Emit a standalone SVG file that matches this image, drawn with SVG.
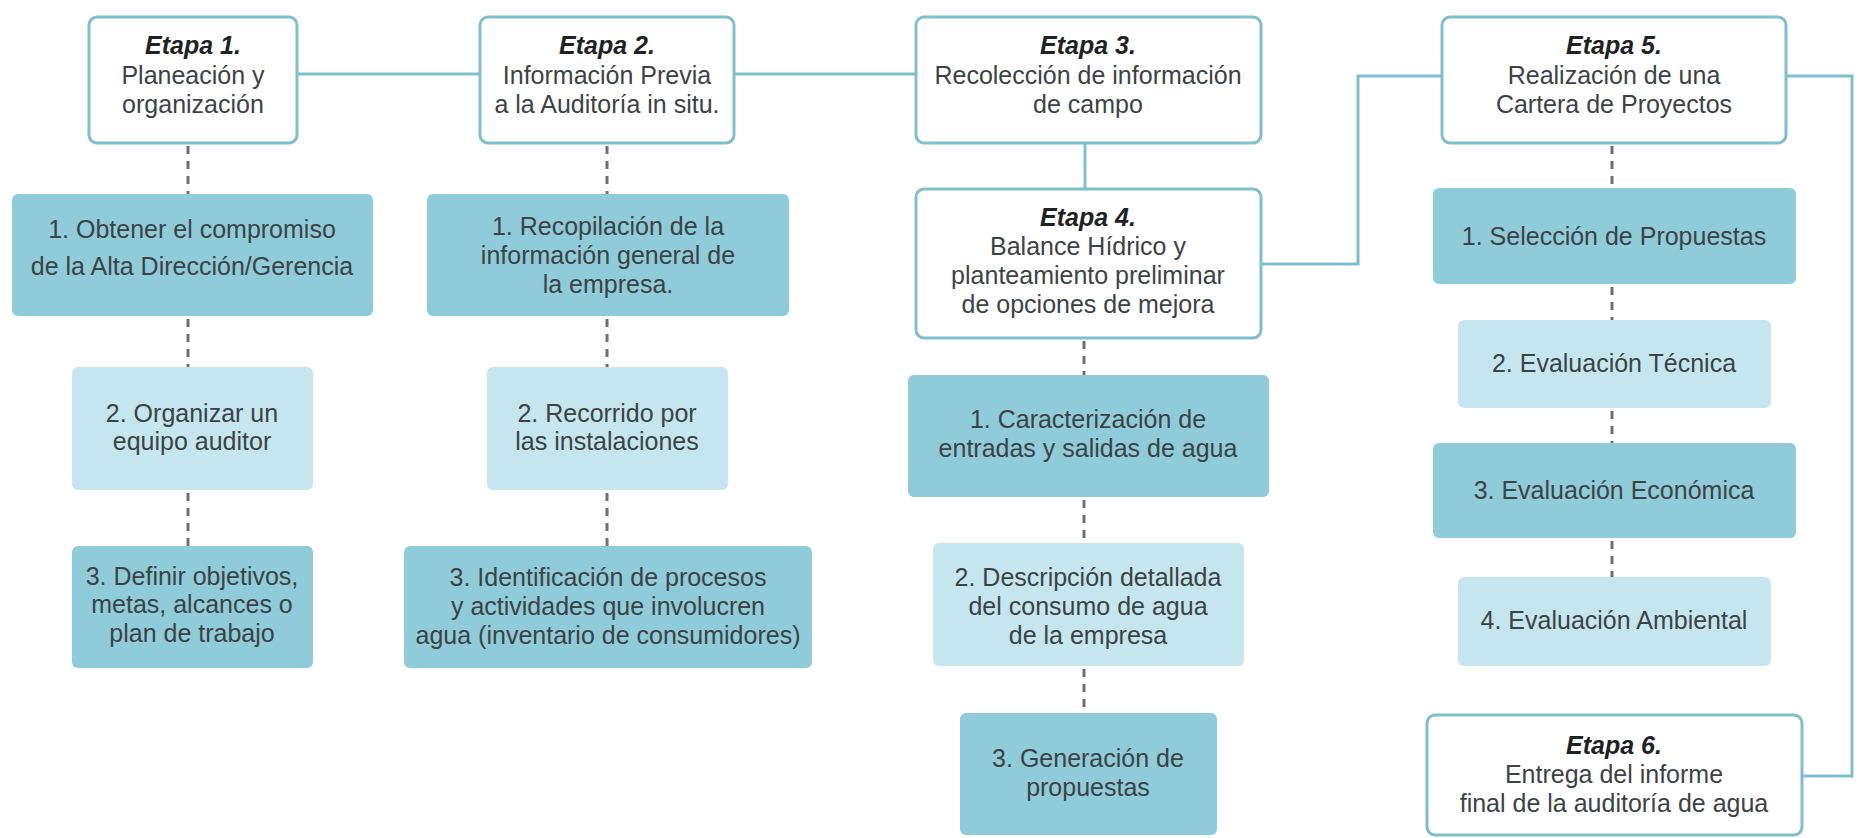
<svg xmlns="http://www.w3.org/2000/svg" width="1860" height="838" viewBox="0 0 1860 838">
<style>
.etapa{fill:#ffffff;stroke:#80bfcd;stroke-width:3}
.dark{fill:#8fcbd8}
.light{fill:#c5e6ee}
.t{font-family:"Liberation Sans",Arial,sans-serif;font-size:25px;fill:#3c4346;text-anchor:middle}
.h{font-weight:bold;font-style:italic;fill:#1e2224}
.solid{fill:none;stroke:#80bfcd;stroke-width:3}
.dash{fill:none;stroke:#707070;stroke-width:3;stroke-dasharray:8 7}
</style>
<rect width="1860" height="838" fill="#ffffff"/>
<g id="connectors">
<path class="solid" d="M297,74 H480"/>
<path class="solid" d="M734,74 H916"/>
<path class="solid" d="M1085,143 V189"/>
<path class="solid" d="M1261,264 H1358 V76 H1442"/>
<path class="solid" d="M1786,76 H1852 V776 H1802"/>
<path class="dash" d="M188,146 V194 M188,319 V367 M188,493 V546"/>
<path class="dash" d="M607,146 V194 M607,319 V367 M607,493 V546"/>
<path class="dash" d="M1084,341 V375 M1084,500 V543 M1084,669 V713"/>
<path class="dash" d="M1612,146 V188 M1612,287 V320 M1612,411 V443 M1612,541 V577"/>
</g>
<g id="etapa1">
<rect class="etapa" x="89" y="17" width="208" height="126" rx="8"/>
<text class="t h" x="193" y="54">Etapa 1.</text>
<text class="t" x="193" y="84">Planeación y</text>
<text class="t" x="193" y="113">organización</text>
</g>
<g id="etapa2">
<rect class="etapa" x="480" y="17" width="254" height="126" rx="8"/>
<text class="t h" x="607" y="54">Etapa 2.</text>
<text class="t" x="607" y="84">Información Previa</text>
<text class="t" x="607" y="113">a la Auditoría in situ.</text>
</g>
<g id="etapa3">
<rect class="etapa" x="916" y="17" width="345" height="126" rx="8"/>
<text class="t h" x="1088" y="54">Etapa 3.</text>
<text class="t" x="1088" y="84">Recolección de información</text>
<text class="t" x="1088" y="113">de campo</text>
</g>
<g id="etapa4">
<rect class="etapa" x="916" y="189" width="345" height="149" rx="8"/>
<text class="t h" x="1088" y="226">Etapa 4.</text>
<text class="t" x="1088" y="255">Balance Hídrico y</text>
<text class="t" x="1088" y="284">planteamiento preliminar</text>
<text class="t" x="1088" y="313">de opciones de mejora</text>
</g>
<g id="etapa5">
<rect class="etapa" x="1442" y="17" width="344" height="126" rx="8"/>
<text class="t h" x="1614" y="54">Etapa 5.</text>
<text class="t" x="1614" y="84">Realización de una</text>
<text class="t" x="1614" y="113">Cartera de Proyectos</text>
</g>
<g id="etapa6">
<rect class="etapa" x="1427" y="715" width="375" height="120" rx="8"/>
<text class="t h" x="1614" y="754">Etapa 6.</text>
<text class="t" x="1614" y="783">Entrega del informe</text>
<text class="t" x="1614" y="812">final de la auditoría de agua</text>
</g>
<g id="e1s1">
<rect class="dark" x="12" y="194" width="361" height="122" rx="6"/>
<text class="t" x="192" y="238">1. Obtener el compromiso</text>
<text class="t" x="192" y="275">de la Alta Dirección/Gerencia</text>
</g>
<g id="e1s2">
<rect class="light" x="72" y="367" width="241" height="123" rx="6"/>
<text class="t" x="192" y="422">2. Organizar un</text>
<text class="t" x="192" y="450">equipo auditor</text>
</g>
<g id="e1s3">
<rect class="dark" x="72" y="546" width="241" height="122" rx="6"/>
<text class="t" x="192" y="585">3. Definir objetivos,</text>
<text class="t" x="192" y="613">metas, alcances o</text>
<text class="t" x="192" y="642">plan de trabajo</text>
</g>
<g id="e2s1">
<rect class="dark" x="427" y="194" width="362" height="122" rx="6"/>
<text class="t" x="608" y="235">1. Recopilación de la</text>
<text class="t" x="608" y="264">información general de</text>
<text class="t" x="608" y="293">la empresa.</text>
</g>
<g id="e2s2">
<rect class="light" x="487" y="367" width="241" height="123" rx="6"/>
<text class="t" x="607" y="422">2. Recorrido por</text>
<text class="t" x="607" y="450">las instalaciones</text>
</g>
<g id="e2s3">
<rect class="dark" x="404" y="546" width="408" height="122" rx="6"/>
<text class="t" x="608" y="586">3. Identificación de procesos</text>
<text class="t" x="608" y="615">y actividades que involucren</text>
<text class="t" x="608" y="644">agua (inventario de consumidores)</text>
</g>
<g id="e4s1">
<rect class="dark" x="908" y="375" width="361" height="122" rx="6"/>
<text class="t" x="1088" y="428">1. Caracterización de</text>
<text class="t" x="1088" y="457">entradas y salidas de agua</text>
</g>
<g id="e4s2">
<rect class="light" x="933" y="543" width="311" height="123" rx="6"/>
<text class="t" x="1088" y="586">2. Descripción detallada</text>
<text class="t" x="1088" y="615">del consumo de agua</text>
<text class="t" x="1088" y="644">de la empresa</text>
</g>
<g id="e4s3">
<rect class="dark" x="960" y="713" width="257" height="122" rx="6"/>
<text class="t" x="1088" y="767">3. Generación de</text>
<text class="t" x="1088" y="796">propuestas</text>
</g>
<g id="e5s1">
<rect class="dark" x="1433" y="188" width="363" height="96" rx="6"/>
<text class="t" x="1614" y="245">1. Selección de Propuestas</text>
</g>
<g id="e5s2">
<rect class="light" x="1458" y="320" width="313" height="88" rx="6"/>
<text class="t" x="1614" y="372">2. Evaluación Técnica</text>
</g>
<g id="e5s3">
<rect class="dark" x="1433" y="443" width="363" height="95" rx="6"/>
<text class="t" x="1614" y="499">3. Evaluación Económica</text>
</g>
<g id="e5s4">
<rect class="light" x="1458" y="577" width="313" height="89" rx="6"/>
<text class="t" x="1614" y="629">4. Evaluación Ambiental</text>
</g>
</svg>
